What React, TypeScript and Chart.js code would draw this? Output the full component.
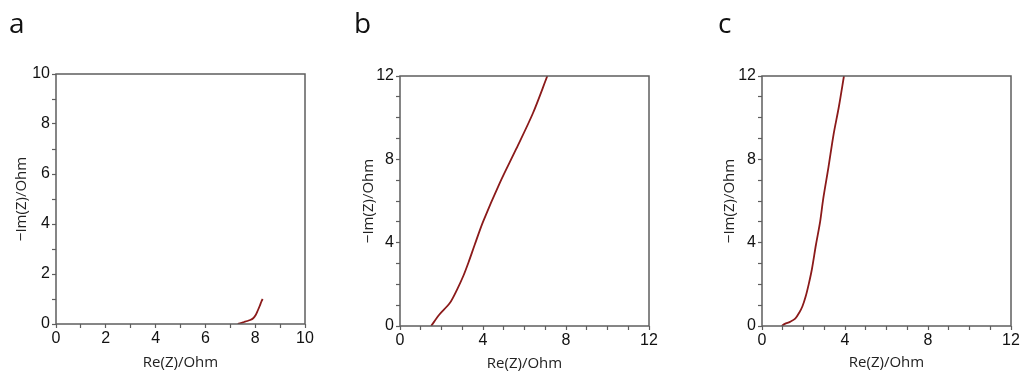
import React, { useEffect, useRef } from 'react';
import { Chart, registerables } from 'chart.js';

Chart.register(...registerables);

// ---- Data ----
const panelLetters = ['a', 'b', 'c'];
const xTitle = 'Re(Z)/Ohm';
const yTitle = '\u2212Im(Z)/Ohm';

const reA = [7.3, 7.42, 7.55, 7.68, 7.8, 7.92, 8.02, 8.1, 8.18, 8.25, 8.3];
const imA = [0.0, 0.04, 0.08, 0.12, 0.16, 0.23, 0.36, 0.53, 0.72, 0.9, 1.0];

const reB = [1.5, 1.9, 2.4, 2.75, 3.05, 3.3, 3.6, 4.0, 4.8, 5.6, 6.4, 7.1];
const imB = [0.0, 0.55, 1.1, 1.75, 2.4, 3.05, 3.9, 5.0, 6.85, 8.5, 10.2, 12.0];

const reC = [0.95, 1.1, 1.35, 1.6, 1.8, 1.95, 2.1, 2.25, 2.4, 2.6, 2.8, 2.95, 3.2, 3.45, 3.7, 3.95];
const imC = [0.0, 0.1, 0.2, 0.35, 0.65, 0.95, 1.4, 2.0, 2.7, 3.9, 5.0, 6.1, 7.6, 9.2, 10.5, 12.0];

const axisMaxA = 10;
const axisMajorA = 2;
const axisMaxBC = 12;
const axisMajorBC = 4;

const lineColor = '#8b1a1a';
const frameColor = '#5e5e5e';

const framePlugin = {
  id: 'frame',
  afterDraw(chart: any, _args: any, opts: any) {
    const { ctx, chartArea } = chart;
    const { left, top, right, bottom } = chartArea;
    ctx.save();
    ctx.strokeStyle = opts.color;
    ctx.lineWidth = 1.5;
    ctx.strokeRect(left, top, right - left, bottom - top);
    ctx.fillStyle = '#111';
    ctx.font = '28px "Open Sans"';
    ctx.textBaseline = 'alphabetic';
    ctx.textAlign = 'left';
    ctx.fillText(opts.letter, opts.lx, opts.ly);
    ctx.restore();
  },
};

type PanelProps = {
  letter: string;
  xs: number[];
  ys: number[];
  max: number;
  major: number;
  left: number;
  width: number;
  pad: { top: number; right: number };
  yAxisWidth: number;
  xAxisHeight: number;
  yTitlePad: number;
  xTitlePad: number;
  letterPos: [number, number];
};

function Panel(p: PanelProps) {
  const ref = useRef<HTMLCanvasElement>(null);
  useEffect(() => {
    if (!ref.current) return;
    const pts = p.xs.map((x, i) => ({ x, y: p.ys[i] }));
    const tickFont = { family: '"Liberation Sans", Arial', size: 16 };
    const titleFont = { family: '"Open Sans"', size: 15 };
    const mkScale = (isX: boolean) => ({
      type: 'linear' as const,
      min: 0,
      max: p.max,
      border: { display: false },
      grid: {
        drawOnChartArea: false,
        drawTicks: true,
        tickLength: 4,
        tickColor: frameColor,
        tickWidth: 1.2,
      },
      ticks: {
        stepSize: 1,
        autoSkip: false,
        maxRotation: 0,
        padding: isX ? 1 : 2,
        color: '#111',
        font: tickFont,
        callback: (v: any) => (Number(v) % p.major === 0 ? String(v) : ''),
      },
      title: {
        display: true,
        text: isX ? xTitle : yTitle,
        color: '#222',
        font: titleFont,
        padding: isX ? { top: 0, bottom: p.xTitlePad } : { top: p.yTitlePad, bottom: 0 },
      },
      afterFit: (scale: any) => {
        if (isX) scale.height = p.xAxisHeight;
        else scale.width = p.yAxisWidth;
      },
    });
    const chart = new Chart(ref.current, {
      type: 'scatter',
      data: {
        datasets: [
          {
            data: pts,
            showLine: true,
            borderColor: lineColor,
            borderWidth: 1.8,
            pointRadius: 0,
            tension: 0.3,
          },
        ],
      },
      options: {
        animation: false,
        responsive: false,
        maintainAspectRatio: false,
        devicePixelRatio: 1,
        layout: { padding: { top: p.pad.top, right: p.pad.right, left: 0, bottom: 0 } },
        plugins: {
          legend: { display: false },
          tooltip: { enabled: false },
          frame: { color: frameColor, letter: p.letter, lx: p.letterPos[0], ly: p.letterPos[1] },
        } as any,
        scales: {
          x: mkScale(true),
          y: mkScale(false),
        },
      },
      plugins: [framePlugin],
    });
    return () => chart.destroy();
  }, []);
  return (
    <canvas
      ref={ref}
      width={p.width}
      height={374}
      style={{ position: 'absolute', left: p.left, top: 0, width: p.width, height: 374 }}
    />
  );
}

export default function App() {
  return (
    <div style={{ position: 'fixed', left: 0, top: 0, width: 1022, height: 374, background: '#fff' }}>
      <Panel
        letter={panelLetters[0]}
        xs={reA}
        ys={imA}
        max={axisMaxA}
        major={axisMajorA}
        left={0}
        width={340}
        pad={{ top: 74, right: 35 }}
        yAxisWidth={56}
        xAxisHeight={50}
        yTitlePad={13}
        xTitlePad={2}
        letterPos={[9, 33]}
      />
      <Panel
        letter={panelLetters[1]}
        xs={reB}
        ys={imB}
        max={axisMaxBC}
        major={axisMajorBC}
        left={340}
        width={340}
        pad={{ top: 76, right: 31 }}
        yAxisWidth={60}
        xAxisHeight={48}
        yTitlePad={20}
        xTitlePad={1}
        letterPos={[14, 33]}
      />
      <Panel
        letter={panelLetters[2]}
        xs={reC}
        ys={imC}
        max={axisMaxBC}
        major={axisMajorBC}
        left={680}
        width={342}
        pad={{ top: 76, right: 11 }}
        yAxisWidth={82}
        xAxisHeight={48}
        yTitlePad={41}
        xTitlePad={2}
        letterPos={[38, 33]}
      />
    </div>
  );
}
